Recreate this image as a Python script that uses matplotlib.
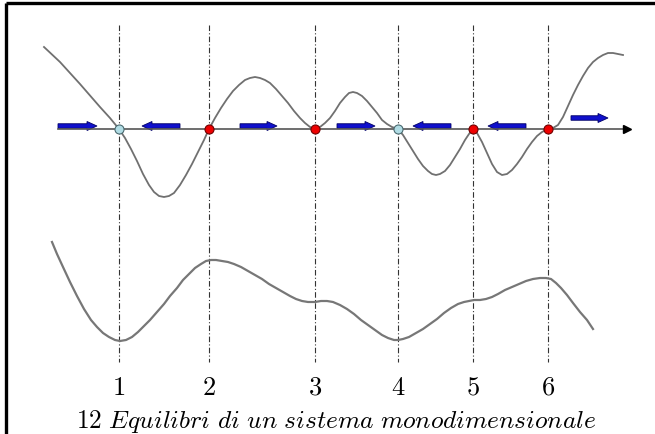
import numpy as np
import matplotlib.pyplot as plt
from matplotlib.patches import FancyArrow

plt.rcParams['mathtext.fontset'] = 'cm'

# Force curve (top), position vs height above the axis
force_x = [44, 60, 80, 100, 110, 119, 125, 131, 137, 143, 149, 154, 159, 164, 169, 174,
           180, 186, 192, 198, 204, 209, 215, 221, 227, 233, 239, 245, 250, 255, 260, 265,
           270, 276, 282, 288, 294, 300, 305, 310, 315, 320, 325, 330, 335, 340, 345, 349,
           353, 357, 362, 367, 372, 377, 382, 387, 392, 398, 403, 408, 413, 418, 423, 428,
           432, 436, 440, 445, 450, 455, 460, 465, 469, 473, 477, 482, 487, 492, 497, 502,
           507, 512, 517, 522, 527, 532, 537, 542, 548, 553, 558, 563, 568, 573, 578, 583,
           588, 593, 598, 603, 608, 613, 618, 623]
force_y = [82, 67, 45, 22, 11, 0, -9, -20, -32, -45, -56, -63, -67, -68, -67, -64,
           -56, -46, -35, -23, -11, 0, 11, 21, 30, 38, 44, 49, 51, 52, 51, 49,
           46, 40, 33, 26, 18, 11, 6, 2, 0, 2, 6, 11, 18, 26, 32, 36,
           37, 36, 33, 28, 22, 16, 9, 5, 2, 0, -6, -14, -22, -30, -37, -42,
           -45, -46, -45, -42, -36, -28, -20, -11, -5, 0, -4, -13, -24, -35, -43, -46,
           -45, -41, -35, -28, -20, -13, -7, -3, 0, 1, 4, 12, 23, 34, 44, 53,
           61, 67, 71, 74, 76, 76, 75, 74]

# Potential curve (bottom)
pot_x = [52, 57, 63, 70, 77, 84, 91, 97, 103, 109, 115, 120, 126, 132, 138, 144,
         150, 157, 164, 170, 177, 183, 189, 195, 201, 206, 211, 216, 222, 228, 234, 241,
         248, 255, 262, 269, 276, 283, 290, 296, 302, 308, 315, 321, 327, 333, 340, 347,
         354, 361, 368, 375, 382, 388, 394, 398, 403, 409, 416, 423, 430, 437, 444, 451,
         458, 464, 469, 474, 480, 486, 492, 498, 505, 512, 519, 526, 533, 540, 546, 551,
         556, 561, 567, 573, 580, 587, 593]
pot_y = [-113, -125, -138, -153, -167, -180, -191, -198, -204, -208, -211, -212, -211, -208, -203, -197,
         -191, -183, -175, -167, -159, -151, -145, -139, -135, -132, -131, -131, -132, -133, -135, -138,
         -142, -146, -150, -155, -159, -163, -167, -170, -172, -173, -173, -172, -172, -173, -176, -180,
         -185, -191, -196, -201, -206, -209, -211, -211, -210, -208, -204, -200, -195, -190, -184, -179,
         -175, -173, -172, -171, -171, -170, -168, -165, -161, -158, -155, -152, -150, -149, -149, -150,
         -154, -159, -166, -174, -183, -191, -200]

# Equilibrium points
eq_x = [119, 209, 315, 398, 473, 548]
eq_labels = ['1', '2', '3', '4', '5', '6']
eq_stable = [True, False, False, True, False, False]

# Direction arrows on the axis (start, end, height)
arrow_start = [58, 180, 240, 337, 451, 526, 571]
arrow_end = [97, 142, 277, 375, 413, 488, 608]
arrow_y = [3, 3, 3, 3, 3, 3, 11]

caption = r'$12\ \mathit{Equilibri\ di\ un\ sistema\ monodimensionale}$'

fig = plt.figure(figsize=(6.55, 4.35), dpi=100)
ax = fig.add_axes([0, 0, 1, 1])
ax.set_xlim(0, 655)
ax.set_ylim(-305, 130)
ax.axis('off')

# frame (top and left edges only)
ax.plot([6, 655], [126, 126], color='black', lw=2.4, solid_capstyle='butt')
ax.plot([6, 6], [126, -305], color='black', lw=2.4, solid_capstyle='butt')

# dash-dot guide lines
for x in eq_x:
    ax.plot([x, x], [104, -233], color='#333333', lw=0.8, linestyle=(0, (5, 2, 1, 2)))

# x axis with arrowhead
ax.plot([58, 625], [0, 0], color='#555555', lw=1.2)
ax.plot([627], [0], marker='>', color='black', markersize=6)

ax.plot(force_x, force_y, color='#707070', lw=1.3)
ax.plot(pot_x, pot_y, color='#777777', lw=1.6)

for x0, x1, y in zip(arrow_start, arrow_end, arrow_y):
    ax.add_patch(FancyArrow(x0, y, x1 - x0, 0, width=4.5, head_width=9, head_length=10,
                            length_includes_head=True, facecolor='#1010cc',
                            edgecolor='#000066', lw=0.6))

for x, st in zip(eq_x, eq_stable):
    fc = '#b0dce4' if st else '#ee0000'
    ec = '#4a6a70' if st else '#700000'
    ax.plot([x], [0], 'o', markersize=6.5, markerfacecolor=fc, markeredgecolor=ec, mew=0.8)

for x, lab in zip(eq_x, eq_labels):
    ax.text(x, -258, '$' + lab + '$', ha='center', va='center', fontsize=19)

ax.text(336, -292, caption, ha='center', va='center', fontsize=18.3)

fig.savefig('out.png', dpi=100)
